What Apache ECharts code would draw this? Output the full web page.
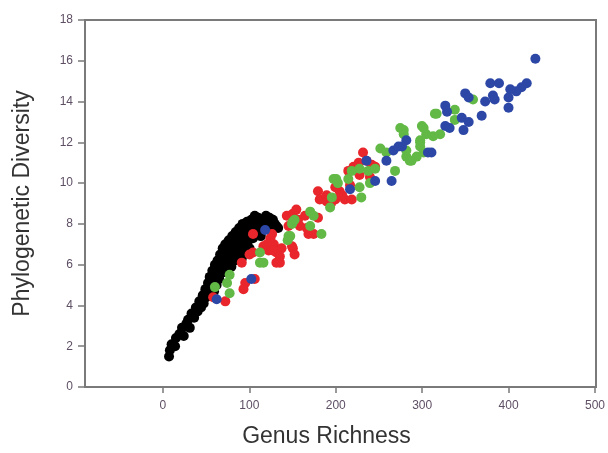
<!DOCTYPE html>
<html>
<head>
<meta charset="utf-8">
<script src="https://cdn.jsdelivr.net/npm/echarts@6/dist/echarts.min.js"></script>
<style>
  html, body { margin: 0; padding: 0; background: #fff; }
  #chart { width: 608px; height: 453px; }
</style>
</head>
<body>
<div id="chart"></div>
<script>
// genus richness vs phylogenetic diversity, [x, y]
var blackPts = [
  [7,1.5],[8,1.8],[10,2.1],[14,2.0],[15,2.4],[19,2.6],[22,2.9],[24,2.5],[27,3.1],[29,3.3],
  [31,2.9],[33,3.6],[36,3.4],[38,3.9],[40,3.7],[42,4.2],[44,3.9],[46,4.5],[47,4.1],[49,4.8],
  [50,4.4],[52,5.1],[53,4.6],[54,5.4],[55,4.9],[57,5.7],[58,5.2],[59,4.7],[60,6.0],[61,5.5],
  [62,5.0],[63,6.2],[64,5.8],[65,5.3],[66,6.5],[67,6.0],[68,5.6],[69,6.8],[70,6.3],[71,5.8],
  [72,7.0],[73,6.6],[74,6.1],[75,5.6],[76,7.2],[77,6.8],[78,6.4],[79,5.9],[80,7.4],[81,7.0],
  [82,6.6],[83,6.2],[84,7.6],[85,7.2],[86,6.8],[87,6.4],[88,7.8],[89,7.3],[90,6.9],[91,6.3],
  [92,8.0],[93,7.5],[94,7.1],[95,6.6],[97,8.1],[98,7.7],[99,7.2],[100,6.8],[102,8.2],[103,7.8],
  [104,7.3],[106,8.4],[107,7.9],[108,7.5],[110,8.3],[112,7.9],[113,7.4],[115,8.2],[117,7.8],[119,8.4],
  [121,8.0],[123,8.3],[125,7.8],[127,8.2],[129,8.0],[131,7.9],[133,7.8]
];
var redPts = [
  [104,7.5],[91,6.1],[100,6.5],[104,6.6],[95,5.1],[93,4.8],[106,5.3],[58,4.4],[72,4.2],[116,6.9],
  [122,6.7],[128,7.0],[131,6.6],[135,6.1],[124,7.3],[137,6.8],[143,8.4],[149,6.9],[145,7.9],[126,7.5],
  [120,7.0],[127,6.7],[135,6.4],[131,6.1],[150,6.8],[152,6.5],[150,8.5],[154,8.7],[156,8.2],[164,8.4],
  [168,7.5],[174,7.5],[179,8.3],[179,9.6],[181,9.2],[189,9.4],[189,9.1],[199,9.2],[204,9.6],[210,9.2],
  [218,9.2],[216,9.9],[199,9.8],[220,10.8],[226,11.0],[231,11.5],[235,11.1],[241,10.9],[245,10.8],[227,10.4],
  [239,10.3],[214,10.6],[224,10.6],[166,7.8],[158,7.9],[194,9.0],[207,9.4]
];
var greenPts = [
  [60,4.9],[74,5.1],[77,5.5],[77,4.6],[112,6.6],[112,6.1],[145,7.4],[149,8.0],[116,6.1],[150,8.1],
  [170,8.6],[174,8.4],[170,7.9],[147,7.4],[183,7.5],[193,8.8],[195,9.3],[197,10.2],[202,10.0],[214,10.2],
  [218,10.6],[227,10.7],[237,10.6],[245,10.7],[227,9.8],[229,9.3],[239,10.0],[251,11.7],[258,11.5],[268,10.6],
  [274,12.7],[278,12.4],[281,11.3],[287,11.1],[293,11.3],[297,12.0],[299,12.8],[304,12.4],[301,11.5],[358,14.1],
  [314,13.4],[337,13.6],[337,13.1],[301,12.7],[278,12.6],[297,12.1],[320,12.4],[312,12.3],[281,11.6],[297,11.8],
  [285,11.1],[316,13.4],[200,10.2],[152,8.2],[144,7.2]
];
var bluePts = [
  [430,16.1],[378,14.9],[388,14.9],[349,14.4],[353,14.2],[420,14.9],[414,14.7],[408,14.5],[401,14.6],[399,14.2],
  [381,14.3],[372,14.0],[383,14.1],[399,13.7],[368,13.3],[326,13.8],[328,13.5],[345,13.2],[353,13.0],[347,12.6],
  [326,12.8],[331,12.7],[310,11.5],[281,12.1],[276,11.8],[266,11.6],[272,11.8],[258,11.1],[264,10.1],[235,11.1],
  [245,10.1],[216,9.7],[306,11.5],[118,7.7],[102,5.3],[62,4.3]
];

var xMin = -90, xMax = 500;

var chart = echarts.init(document.getElementById('chart'), null, {renderer: 'canvas'});

var axisGrey = '#7a7a7a';
var labelColor = '#5e4f64';

// plot area in px; the second grid only carries the x ticks (0..500)
var gLeft = 85, gRight = 12, gTop = 20, gBottom = 66;
var plotW = 608 - gLeft - gRight;
var tickLeft = gLeft + plotW * (0 - xMin) / (xMax - xMin);

var option = {
  animation: false,
  backgroundColor: '#fff',
  textStyle: {fontFamily: 'Liberation Sans, Arial, sans-serif'},
  grid: [
    {left: gLeft, right: gRight, top: gTop, bottom: gBottom, show: true, borderColor: axisGrey, borderWidth: 2},
    {left: tickLeft, right: gRight, top: gTop, bottom: gBottom, show: false}
  ],
  xAxis: [
    {
      type: 'value',
      min: xMin,
      max: xMax,
      name: 'Genus Richness',
      nameLocation: 'middle',
      nameGap: 38,
      nameTextStyle: {fontSize: 23, color: '#333', padding: [0, 28, 0, 0]},
      splitLine: {show: false},
      axisLine: {show: true, onZero: false, lineStyle: {color: axisGrey, width: 2}},
      axisTick: {show: false},
      axisLabel: {show: false}
    },
    {
      gridIndex: 1,
      type: 'value',
      min: 0,
      max: xMax,
      interval: 100,
      splitLine: {show: false},
      axisLine: {show: false, onZero: false},
      axisTick: {show: true, length: 6, lineStyle: {color: axisGrey, width: 1.5}},
      axisLabel: {color: labelColor, fontSize: 12, margin: 13}
    }
  ],
  yAxis: [
    {
      type: 'value',
      min: 0,
      max: 18,
      interval: 2,
      name: 'Phylogenetic Diversity',
      nameLocation: 'middle',
      nameGap: 51,
      nameTextStyle: {fontSize: 23, color: '#333'},
      splitLine: {show: false},
      axisLine: {show: true, onZero: false, lineStyle: {color: axisGrey, width: 2}},
      axisTick: {show: true, length: 7, lineStyle: {color: axisGrey, width: 1.5}},
      axisLabel: {color: labelColor, fontSize: 12, margin: 12}
    },
    {gridIndex: 1, type: 'value', min: 0, max: 18, show: false}
  ],
  series: [
    {name: 'black', type: 'scatter', data: blackPts, symbolSize: 10, itemStyle: {color: '#000000', opacity: 1}},
    {name: 'red', type: 'scatter', data: redPts, symbolSize: 10, itemStyle: {color: '#e8262b', opacity: 1}},
    {name: 'green', type: 'scatter', data: greenPts, symbolSize: 10, itemStyle: {color: '#62b946', opacity: 1}},
    {name: 'blue', type: 'scatter', data: bluePts, symbolSize: 10, itemStyle: {color: '#2c47a6', opacity: 1}}
  ]
};

chart.setOption(option);
</script>
</body>
</html>
